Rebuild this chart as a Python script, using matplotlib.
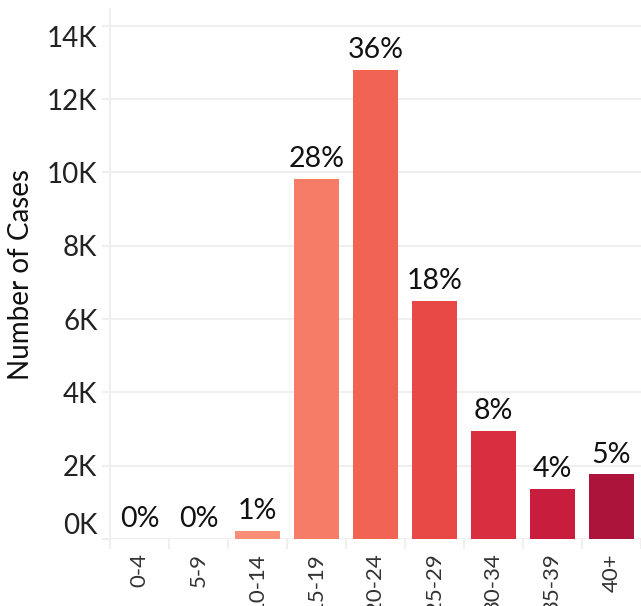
import matplotlib
matplotlib.use("Agg")
import matplotlib.pyplot as plt

# age groups and case counts
age_groups = ["0-4", "5-9", "10-14", "15-19", "20-24", "25-29", "30-34", "35-39", "40+"]
cases = [8, 12, 220, 9820, 12800, 6500, 2950, 1370, 1760]
pct_labels = ["0%", "0%", "1%", "28%", "36%", "18%", "8%", "4%", "5%"]
bar_colors = ["#fdb49c", "#fca38b", "#fa8f78", "#f67c68", "#f16353",
              "#e84846", "#d82e3f", "#c81d3d", "#ad143b"]
yticks = [0, 2000, 4000, 6000, 8000, 10000, 12000, 14000]

plt.rcParams["font.family"] = ["Lato", "DejaVu Sans"]
grid_col = "#efefef"

fig = plt.figure(figsize=(6.41, 6.06), dpi=100)
ax = fig.add_axes([110 / 641, 67 / 606, 531 / 641, 530 / 606])

x = list(range(len(age_groups)))
ax.bar(x, cases, width=0.76, color=bar_colors, zorder=2)

for i in x:
    ax.annotate(pct_labels[i], (i, cases[i]), xytext=(0, 5), textcoords="offset points",
                ha="center", va="bottom", fontsize=20.5, color="#111111")

ax.set_xlim(-0.5, 8.43)
ax.set_ylim(0, 14460)

ax.set_yticks(yticks)
ax.set_yticklabels([f"{v // 1000}K" for v in yticks])
ax.tick_params(axis="y", length=6, width=1.5, color=grid_col, labelsize=20,
               labelcolor="#222222", pad=3)
labels = ax.get_yticklabels()
labels[0].set_va("bottom")
labels[-1].set_va("top")

ax.set_xticks(x)
ax.set_xticklabels(age_groups, rotation=90)
ax.tick_params(axis="x", which="major", length=0, labelsize=16, labelcolor="#333333", pad=10)
ax.set_xticks([i - 0.5 for i in range(len(age_groups) + 1)], minor=True)
ax.tick_params(axis="x", which="minor", length=7, width=1.5, color=grid_col)

ax.grid(axis="y", color=grid_col, linewidth=1.5, zorder=0)
ax.set_axisbelow(True)
for s in ["top", "right", "bottom"]:
    ax.spines[s].set_visible(False)
ax.spines["left"].set_color(grid_col)
ax.spines["left"].set_linewidth(1.5)

ax.set_ylabel("Number of Cases", fontsize=20, color="#111111")
ax.yaxis.set_label_coords(-76 / 531, 0.5)

fig.savefig("out.png", dpi=100)
